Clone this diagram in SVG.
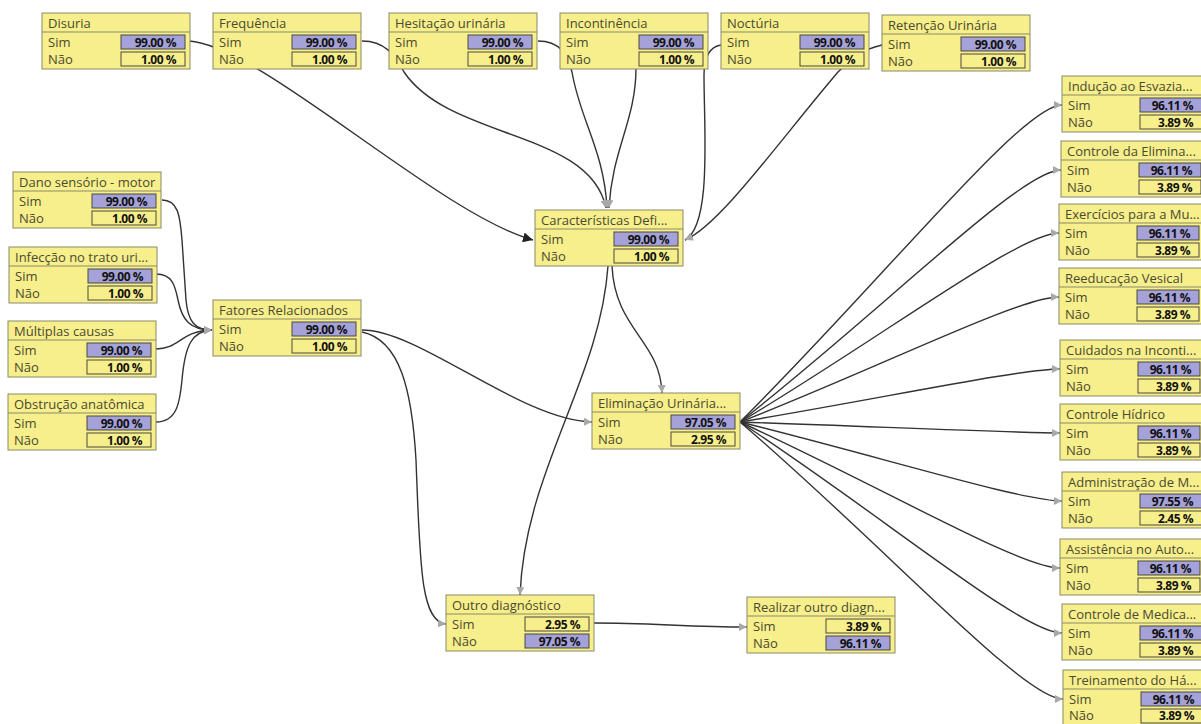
<svg xmlns="http://www.w3.org/2000/svg" width="1201" height="724" viewBox="0 0 1201 724">
  <defs>
    <style>
      .box{fill:#f7ee8c;stroke:#8a8a66;stroke-width:1}
      .sep{stroke:#8a8a66;stroke-width:1}
      .ttl,.lbl{font-family:"Open Sans","Noto Sans",sans-serif;font-size:13px;fill:#4a4a30}
      .val{font-family:"Open Sans","Noto Sans",sans-serif;font-size:12px;font-weight:bold;fill:#111;text-anchor:end;letter-spacing:-0.5px}
      .vb{fill:#f7ee8c;stroke:#4a4a3a;stroke-width:1}
      .hi{fill:#a4a2d8}
      .edge{fill:none;stroke:#333;stroke-width:1.4}
      .arr{marker-end:url(#arrowGray)}
      .arrDark{marker-end:url(#arrowDark)}
    </style>
    <marker id="arrowGray" viewBox="0 0 10 10" refX="10" refY="5" markerWidth="8" markerHeight="8" markerUnits="userSpaceOnUse" orient="auto">
      <path d="M0,0 L10,5 L0,10 z" fill="#a8a8a8"/>
    </marker>
    <marker id="arrowDark" viewBox="0 0 10 10" refX="10" refY="5" markerWidth="10" markerHeight="10" markerUnits="userSpaceOnUse" orient="auto">
      <path d="M0,0 L10,5 L0,10 z" fill="#222"/>
    </marker>
  </defs>
  <rect width="1201" height="724" fill="#fff"/>

  <!-- connectors -->
  <g id="connectors">
    <!-- symptoms into Características Definidoras -->
    <path class="edge arrDark" d="M189,41 C260,45 440,215 533,240"/>
    <path class="edge arr" d="M362,41 C385,41 395,55 404,72 C450,140 590,130 606,208"/>
    <path class="edge arr" d="M538,41 C560,41 568,55 572,72 C580,120 604,150 607,208"/>
    <path class="edge arr" d="M636,68 C636,120 612,150 609,208"/>
    <path class="edge arr" d="M721,45 C709,47 704,58 704,75 C704,130 712,225 685,240"/>
    <path class="edge arr" d="M882,45 C860,50 850,60 838,72 C780,140 720,225 685,240"/>
    <!-- related factors -->
    <path class="edge arr" d="M162,200 C178,200 180,215 182,240 L186,300 C188,322 195,330 212,330"/>
    <path class="edge arr" d="M156,274 C172,274 175,285 178,300 C182,320 190,330 212,330"/>
    <path class="edge arr" d="M156,349 C180,349 180,331 212,330"/>
    <path class="edge arr" d="M156,422 C178,422 180,400 182,380 C185,345 192,331 212,330"/>
    <!-- middle -->
    <path class="edge arr" d="M362,330 C420,330 520,420 592,422"/>
    <path class="edge arr" d="M362,332 C400,340 412,390 416,460 C420,560 420,622 446,624"/>
    <path class="edge arr" d="M612,266 C615,330 660,340 662,393"/>
    <path class="edge arr" d="M608,266 C600,380 525,470 520,595"/>
    <path class="edge arr" d="M594,623 C650,623 690,627 747,627"/>
    <!-- Eliminação Urinária fan-out -->
    <path class="edge arr" d="M740,422 C884,279 1022,105 1062,105"/>
    <path class="edge arr" d="M740,422 C884,309 1021,170 1061,170"/>
    <path class="edge arr" d="M740,422 C883,337 1019,233 1059,233"/>
    <path class="edge arr" d="M740,422 C883,366 1019,297 1059,297"/>
    <path class="edge arr" d="M740,422 C884,398 1020,369 1060,369"/>
    <path class="edge arr" d="M740,422 C884,427 1020,433 1060,433"/>
    <path class="edge arr" d="M740,422 C885,458 1022,501 1062,501"/>
    <path class="edge arr" d="M740,422 C884,488 1020,568 1060,568"/>
    <path class="edge arr" d="M740,422 C885,517 1022,633 1062,633"/>
    <path class="edge arr" d="M740,422 C885,546 1023,699 1063,699"/>
  </g>

  <!-- top row: symptoms -->
  <g id="n-disuria" transform="translate(42,13)">
    <rect class="box" width="148" height="56"/><line class="sep" x1="0" y1="19" x2="148" y2="19"/>
    <text class="ttl" x="6" y="15">Disuria</text>
    <text class="lbl" x="6" y="34">Sim</text><text class="lbl" x="6" y="51">Não</text>
    <rect class="vb hi" x="79" y="22" width="64" height="14"/><rect class="vb" x="79" y="39" width="64" height="14"/>
    <text class="val" x="134" y="33.5">99.00 %</text><text class="val" x="134" y="50.5">1.00 %</text>
  </g>
  <g id="n-frequencia" transform="translate(213,13)">
    <rect class="box" width="148" height="56"/><line class="sep" x1="0" y1="19" x2="148" y2="19"/>
    <text class="ttl" x="6" y="15">Frequência</text>
    <text class="lbl" x="6" y="34">Sim</text><text class="lbl" x="6" y="51">Não</text>
    <rect class="vb hi" x="79" y="22" width="64" height="14"/><rect class="vb" x="79" y="39" width="64" height="14"/>
    <text class="val" x="134" y="33.5">99.00 %</text><text class="val" x="134" y="50.5">1.00 %</text>
  </g>
  <g id="n-hesitacao" transform="translate(389,13)">
    <rect class="box" width="148" height="56"/><line class="sep" x1="0" y1="19" x2="148" y2="19"/>
    <text class="ttl" x="6" y="15">Hesitação urinária</text>
    <text class="lbl" x="6" y="34">Sim</text><text class="lbl" x="6" y="51">Não</text>
    <rect class="vb hi" x="79" y="22" width="64" height="14"/><rect class="vb" x="79" y="39" width="64" height="14"/>
    <text class="val" x="134" y="33.5">99.00 %</text><text class="val" x="134" y="50.5">1.00 %</text>
  </g>
  <g id="n-incontinencia" transform="translate(560,13)">
    <rect class="box" width="148" height="56"/><line class="sep" x1="0" y1="19" x2="148" y2="19"/>
    <text class="ttl" x="6" y="15">Incontinência</text>
    <text class="lbl" x="6" y="34">Sim</text><text class="lbl" x="6" y="51">Não</text>
    <rect class="vb hi" x="79" y="22" width="64" height="14"/><rect class="vb" x="79" y="39" width="64" height="14"/>
    <text class="val" x="134" y="33.5">99.00 %</text><text class="val" x="134" y="50.5">1.00 %</text>
  </g>
  <g id="n-nocturia" transform="translate(721,13)">
    <rect class="box" width="148" height="56"/><line class="sep" x1="0" y1="19" x2="148" y2="19"/>
    <text class="ttl" x="6" y="15">Noctúria</text>
    <text class="lbl" x="6" y="34">Sim</text><text class="lbl" x="6" y="51">Não</text>
    <rect class="vb hi" x="79" y="22" width="64" height="14"/><rect class="vb" x="79" y="39" width="64" height="14"/>
    <text class="val" x="134" y="33.5">99.00 %</text><text class="val" x="134" y="50.5">1.00 %</text>
  </g>
  <g id="n-retencao" transform="translate(882,15)">
    <rect class="box" width="148" height="56"/><line class="sep" x1="0" y1="19" x2="148" y2="19"/>
    <text class="ttl" x="6" y="15">Retenção Urinária</text>
    <text class="lbl" x="6" y="34">Sim</text><text class="lbl" x="6" y="51">Não</text>
    <rect class="vb hi" x="79" y="22" width="64" height="14"/><rect class="vb" x="79" y="39" width="64" height="14"/>
    <text class="val" x="134" y="33.5">99.00 %</text><text class="val" x="134" y="50.5">1.00 %</text>
  </g>

  <!-- left column: related factors -->
  <g id="n-dano" transform="translate(13,172)">
    <rect class="box" width="148" height="56"/><line class="sep" x1="0" y1="19" x2="148" y2="19"/>
    <text class="ttl" x="6" y="15">Dano sensório - motor</text>
    <text class="lbl" x="6" y="34">Sim</text><text class="lbl" x="6" y="51">Não</text>
    <rect class="vb hi" x="79" y="22" width="64" height="14"/><rect class="vb" x="79" y="39" width="64" height="14"/>
    <text class="val" x="134" y="33.5">99.00 %</text><text class="val" x="134" y="50.5">1.00 %</text>
  </g>
  <g id="n-infeccao" transform="translate(9,247)">
    <rect class="box" width="148" height="56"/><line class="sep" x1="0" y1="19" x2="148" y2="19"/>
    <text class="ttl" x="6" y="15">Infecção no trato uri...</text>
    <text class="lbl" x="6" y="34">Sim</text><text class="lbl" x="6" y="51">Não</text>
    <rect class="vb hi" x="79" y="22" width="64" height="14"/><rect class="vb" x="79" y="39" width="64" height="14"/>
    <text class="val" x="134" y="33.5">99.00 %</text><text class="val" x="134" y="50.5">1.00 %</text>
  </g>
  <g id="n-multiplas" transform="translate(8,321)">
    <rect class="box" width="148" height="56"/><line class="sep" x1="0" y1="19" x2="148" y2="19"/>
    <text class="ttl" x="6" y="15">Múltiplas causas</text>
    <text class="lbl" x="6" y="34">Sim</text><text class="lbl" x="6" y="51">Não</text>
    <rect class="vb hi" x="79" y="22" width="64" height="14"/><rect class="vb" x="79" y="39" width="64" height="14"/>
    <text class="val" x="134" y="33.5">99.00 %</text><text class="val" x="134" y="50.5">1.00 %</text>
  </g>
  <g id="n-obstrucao" transform="translate(8,394)">
    <rect class="box" width="148" height="56"/><line class="sep" x1="0" y1="19" x2="148" y2="19"/>
    <text class="ttl" x="6" y="15">Obstrução anatômica</text>
    <text class="lbl" x="6" y="34">Sim</text><text class="lbl" x="6" y="51">Não</text>
    <rect class="vb hi" x="79" y="22" width="64" height="14"/><rect class="vb" x="79" y="39" width="64" height="14"/>
    <text class="val" x="134" y="33.5">99.00 %</text><text class="val" x="134" y="50.5">1.00 %</text>
  </g>

  <!-- middle -->
  <g id="n-fatores" transform="translate(213,300)">
    <rect class="box" width="148" height="56"/><line class="sep" x1="0" y1="19" x2="148" y2="19"/>
    <text class="ttl" x="6" y="15">Fatores Relacionados</text>
    <text class="lbl" x="6" y="34">Sim</text><text class="lbl" x="6" y="51">Não</text>
    <rect class="vb hi" x="79" y="22" width="64" height="14"/><rect class="vb" x="79" y="39" width="64" height="14"/>
    <text class="val" x="134" y="33.5">99.00 %</text><text class="val" x="134" y="50.5">1.00 %</text>
  </g>
  <g id="n-caracteristicas" transform="translate(535,210)">
    <rect class="box" width="148" height="56"/><line class="sep" x1="0" y1="19" x2="148" y2="19"/>
    <text class="ttl" x="6" y="15">Características Defi...</text>
    <text class="lbl" x="6" y="34">Sim</text><text class="lbl" x="6" y="51">Não</text>
    <rect class="vb hi" x="79" y="22" width="64" height="14"/><rect class="vb" x="79" y="39" width="64" height="14"/>
    <text class="val" x="134" y="33.5">99.00 %</text><text class="val" x="134" y="50.5">1.00 %</text>
  </g>
  <g id="n-eliminacao" transform="translate(592,393)">
    <rect class="box" width="148" height="56"/><line class="sep" x1="0" y1="19" x2="148" y2="19"/>
    <text class="ttl" x="6" y="15">Eliminação Urinária...</text>
    <text class="lbl" x="6" y="34">Sim</text><text class="lbl" x="6" y="51">Não</text>
    <rect class="vb hi" x="79" y="22" width="64" height="14"/><rect class="vb" x="79" y="39" width="64" height="14"/>
    <text class="val" x="134" y="33.5">97.05 %</text><text class="val" x="134" y="50.5">2.95 %</text>
  </g>
  <g id="n-outro" transform="translate(446,595)">
    <rect class="box" width="148" height="56"/><line class="sep" x1="0" y1="19" x2="148" y2="19"/>
    <text class="ttl" x="6" y="15">Outro diagnóstico</text>
    <text class="lbl" x="6" y="34">Sim</text><text class="lbl" x="6" y="51">Não</text>
    <rect class="vb" x="79" y="22" width="64" height="14"/><rect class="vb hi" x="79" y="39" width="64" height="14"/>
    <text class="val" x="134" y="33.5">2.95 %</text><text class="val" x="134" y="50.5">97.05 %</text>
  </g>
  <g id="n-realizar" transform="translate(747,597)">
    <rect class="box" width="148" height="56"/><line class="sep" x1="0" y1="19" x2="148" y2="19"/>
    <text class="ttl" x="6" y="15">Realizar outro diagn...</text>
    <text class="lbl" x="6" y="34">Sim</text><text class="lbl" x="6" y="51">Não</text>
    <rect class="vb" x="79" y="22" width="64" height="14"/><rect class="vb hi" x="79" y="39" width="64" height="14"/>
    <text class="val" x="134" y="33.5">3.89 %</text><text class="val" x="134" y="50.5">96.11 %</text>
  </g>

  <!-- right column: interventions -->
  <g id="n-inducao" transform="translate(1062,76)">
    <rect class="box" width="146" height="56"/><line class="sep" x1="0" y1="19" x2="146" y2="19"/>
    <text class="ttl" x="6" y="15">Indução ao Esvazia...</text>
    <text class="lbl" x="6" y="34">Sim</text><text class="lbl" x="6" y="51">Não</text>
    <rect class="vb hi" x="78" y="22" width="62" height="14"/><rect class="vb" x="78" y="39" width="62" height="14"/>
    <text class="val" x="131" y="33.5">96.11 %</text><text class="val" x="131" y="50.5">3.89 %</text>
  </g>
  <g id="n-controle-eliminacao" transform="translate(1061,141)">
    <rect class="box" width="146" height="56"/><line class="sep" x1="0" y1="19" x2="146" y2="19"/>
    <text class="ttl" x="6" y="15">Controle da Elimina...</text>
    <text class="lbl" x="6" y="34">Sim</text><text class="lbl" x="6" y="51">Não</text>
    <rect class="vb hi" x="78" y="22" width="62" height="14"/><rect class="vb" x="78" y="39" width="62" height="14"/>
    <text class="val" x="131" y="33.5">96.11 %</text><text class="val" x="131" y="50.5">3.89 %</text>
  </g>
  <g id="n-exercicios" transform="translate(1059,204)">
    <rect class="box" width="146" height="56"/><line class="sep" x1="0" y1="19" x2="146" y2="19"/>
    <text class="ttl" x="6" y="15">Exercícios para a Mu...</text>
    <text class="lbl" x="6" y="34">Sim</text><text class="lbl" x="6" y="51">Não</text>
    <rect class="vb hi" x="78" y="22" width="62" height="14"/><rect class="vb" x="78" y="39" width="62" height="14"/>
    <text class="val" x="131" y="33.5">96.11 %</text><text class="val" x="131" y="50.5">3.89 %</text>
  </g>
  <g id="n-reeducacao" transform="translate(1059,268)">
    <rect class="box" width="146" height="56"/><line class="sep" x1="0" y1="19" x2="146" y2="19"/>
    <text class="ttl" x="6" y="15">Reeducação Vesical</text>
    <text class="lbl" x="6" y="34">Sim</text><text class="lbl" x="6" y="51">Não</text>
    <rect class="vb hi" x="78" y="22" width="62" height="14"/><rect class="vb" x="78" y="39" width="62" height="14"/>
    <text class="val" x="131" y="33.5">96.11 %</text><text class="val" x="131" y="50.5">3.89 %</text>
  </g>
  <g id="n-cuidados" transform="translate(1060,340)">
    <rect class="box" width="146" height="56"/><line class="sep" x1="0" y1="19" x2="146" y2="19"/>
    <text class="ttl" x="6" y="15">Cuidados na Inconti...</text>
    <text class="lbl" x="6" y="34">Sim</text><text class="lbl" x="6" y="51">Não</text>
    <rect class="vb hi" x="78" y="22" width="62" height="14"/><rect class="vb" x="78" y="39" width="62" height="14"/>
    <text class="val" x="131" y="33.5">96.11 %</text><text class="val" x="131" y="50.5">3.89 %</text>
  </g>
  <g id="n-hidrico" transform="translate(1060,404)">
    <rect class="box" width="146" height="56"/><line class="sep" x1="0" y1="19" x2="146" y2="19"/>
    <text class="ttl" x="6" y="15">Controle Hídrico</text>
    <text class="lbl" x="6" y="34">Sim</text><text class="lbl" x="6" y="51">Não</text>
    <rect class="vb hi" x="78" y="22" width="62" height="14"/><rect class="vb" x="78" y="39" width="62" height="14"/>
    <text class="val" x="131" y="33.5">96.11 %</text><text class="val" x="131" y="50.5">3.89 %</text>
  </g>
  <g id="n-administracao" transform="translate(1062,472)">
    <rect class="box" width="146" height="56"/><line class="sep" x1="0" y1="19" x2="146" y2="19"/>
    <text class="ttl" x="6" y="15">Administração de M...</text>
    <text class="lbl" x="6" y="34">Sim</text><text class="lbl" x="6" y="51">Não</text>
    <rect class="vb hi" x="78" y="22" width="62" height="14"/><rect class="vb" x="78" y="39" width="62" height="14"/>
    <text class="val" x="131" y="33.5">97.55 %</text><text class="val" x="131" y="50.5">2.45 %</text>
  </g>
  <g id="n-assistencia" transform="translate(1060,539)">
    <rect class="box" width="146" height="56"/><line class="sep" x1="0" y1="19" x2="146" y2="19"/>
    <text class="ttl" x="6" y="15">Assistência no Auto...</text>
    <text class="lbl" x="6" y="34">Sim</text><text class="lbl" x="6" y="51">Não</text>
    <rect class="vb hi" x="78" y="22" width="62" height="14"/><rect class="vb" x="78" y="39" width="62" height="14"/>
    <text class="val" x="131" y="33.5">96.11 %</text><text class="val" x="131" y="50.5">3.89 %</text>
  </g>
  <g id="n-medicacao" transform="translate(1062,604)">
    <rect class="box" width="146" height="56"/><line class="sep" x1="0" y1="19" x2="146" y2="19"/>
    <text class="ttl" x="6" y="15">Controle de Medica...</text>
    <text class="lbl" x="6" y="34">Sim</text><text class="lbl" x="6" y="51">Não</text>
    <rect class="vb hi" x="78" y="22" width="62" height="14"/><rect class="vb" x="78" y="39" width="62" height="14"/>
    <text class="val" x="131" y="33.5">96.11 %</text><text class="val" x="131" y="50.5">3.89 %</text>
  </g>
  <g id="n-treinamento" transform="translate(1063,670)">
    <rect class="box" width="146" height="56"/><line class="sep" x1="0" y1="19" x2="146" y2="19"/>
    <text class="ttl" x="6" y="15">Treinamento do Há...</text>
    <text class="lbl" x="6" y="34">Sim</text><text class="lbl" x="6" y="50">Não</text>
    <rect class="vb hi" x="78" y="22" width="62" height="14"/><rect class="vb" x="78" y="39" width="62" height="14"/>
    <text class="val" x="131" y="33.5">96.11 %</text><text class="val" x="131" y="50">3.89 %</text>
  </g>
</svg>
